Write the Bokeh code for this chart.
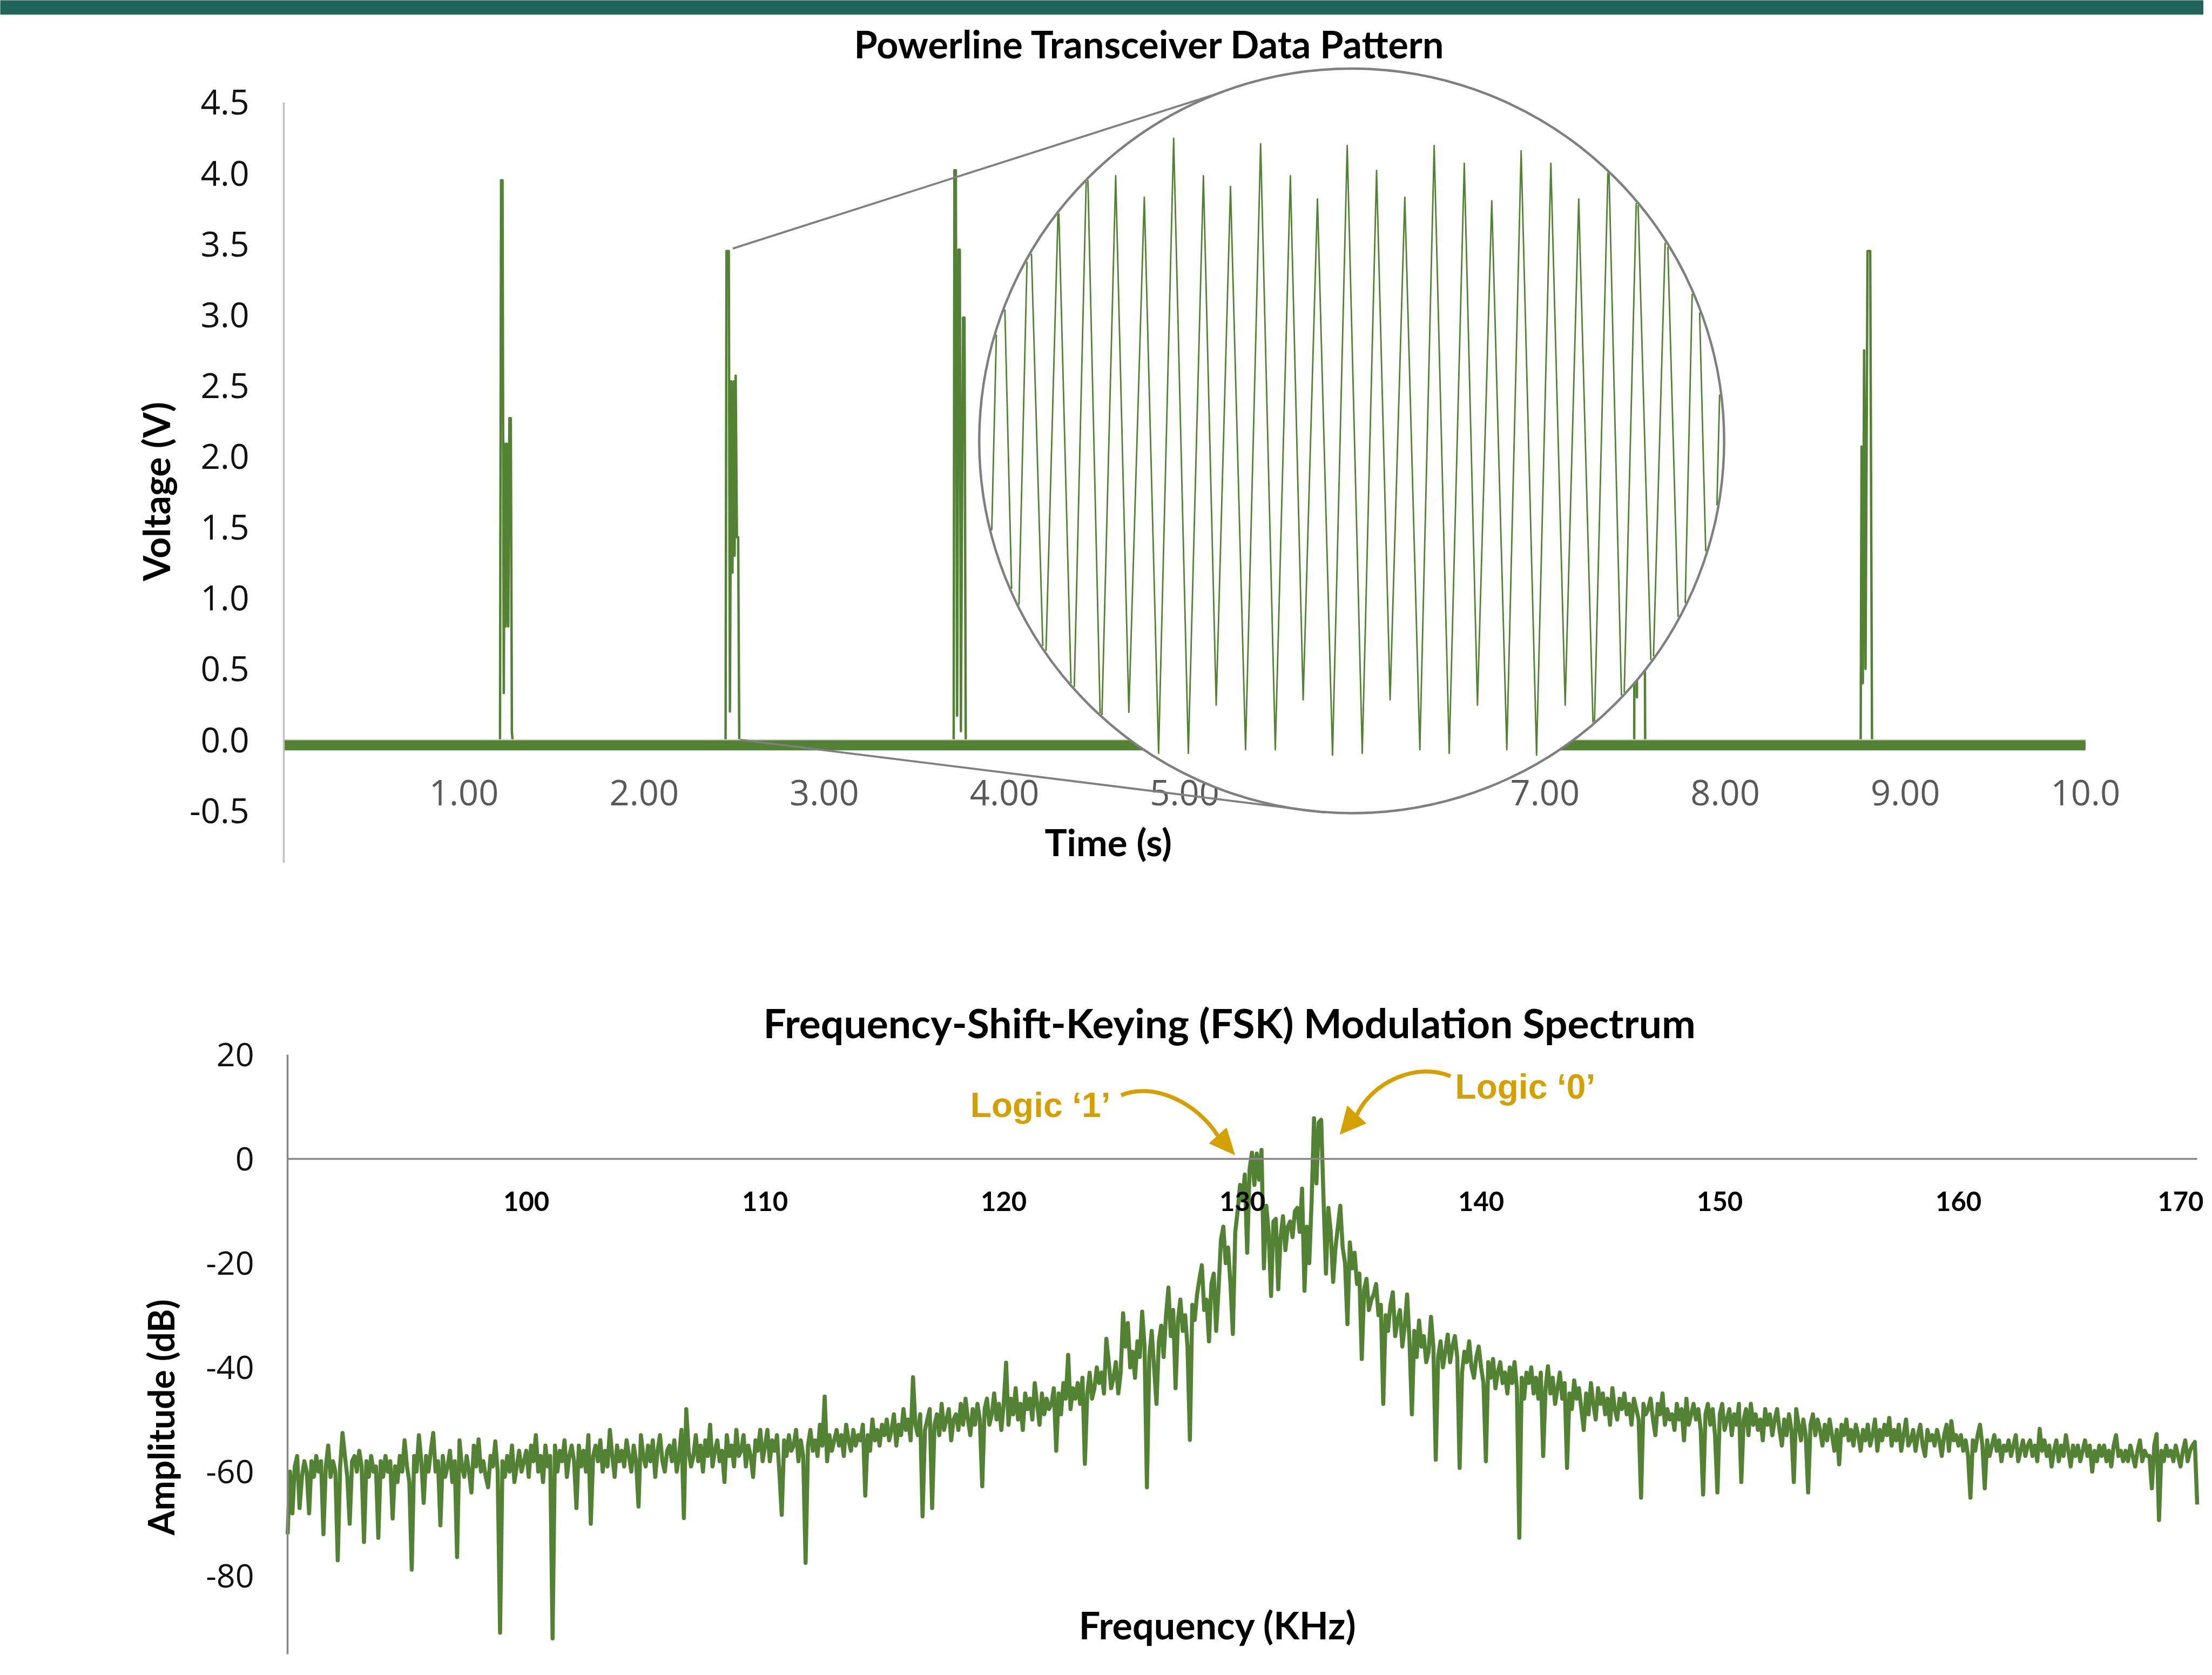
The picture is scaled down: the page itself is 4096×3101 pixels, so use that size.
import math
import numpy as np
from bokeh.plotting import figure
from bokeh.models import Range1d, FixedTicker, NumeralTickFormatter, CustomJSTickFormatter
from bokeh.layouts import column
from bokeh.embed import file_html
from bokeh.resources import INLINE
from bokeh.core.properties import value

# ======================= DATA =======================
# --- Top chart: powerline transceiver voltage trace (time in s, voltage in V)
noise_t = [0.0, 10.0]          # noise band on the idle line
noise_hi = [0.0, 0.0]
noise_lo = [-0.075, -0.075]

trace_t = [0.0,
           1.200, 1.206, 1.214, 1.221, 1.226, 1.232, 1.238, 1.246, 1.252, 1.260, 1.266, 1.272,
           2.452, 2.457, 2.470, 2.476, 2.484, 2.490, 2.498, 2.502, 2.508, 2.515, 2.522, 2.528,
           3.718, 3.722, 3.730, 3.737, 3.745, 3.752, 3.758, 3.770, 3.778, 3.785,
           7.495, 7.500, 7.510, 7.520, 7.530, 7.540, 7.550, 7.556,
           8.752, 8.757, 8.764, 8.771, 8.779, 8.790, 8.805, 8.815,
           10.0]
trace_v = [-0.035,
           -0.035, 3.95, 3.95, 0.33, 2.09, 0.80, 2.09, 0.80, 2.27, 2.27, 0.05, -0.035,
           -0.035, 3.45, 3.45, 0.20, 2.53, 1.18, 2.53, 1.30, 2.57, 1.43, 1.43, -0.035,
           -0.035, 4.02, 4.02, 0.17, 3.46, 3.46, 0.06, 2.98, 2.98, -0.035,
           -0.035, 3.30, 0.30, 3.60, 0.50, 3.10, 2.00, -0.035,
           -0.035, 2.07, 0.40, 2.75, 0.50, 3.45, 3.45, -0.035,
           -0.035]

# magnified FSK burst shown in the callout circle (extrema: time in us, voltage in V)
inset_us = [2.0, 5.8, 9.7, 13.3, 17.4, 21.1, 24.9, 28.7, 32.4, 36.3, 39.8, 43.9, 47.7,
            51.7, 55.6, 59.6, 63.0, 66.8, 70.8, 74.8, 78.7, 82.7, 86.1, 89.9, 93.9,
            97.8, 101.8, 105.6, 109.2, 113.1, 117.1, 120.9, 124.9, 128.9, 132.4, 136.2,
            140.2, 144.0, 148.1, 151.9, 155.7, 159.3, 163.3, 167.2, 171.0, 174.8, 178.8,
            182.6, 186.7, 190.3, 194.4, 198.2]
inset_v = [0.01, 3.42, 0.01, 3.26, 0.27, 3.12, 0.01, 3.42, 0.01, 3.24, 0.23, 3.12, 0.00,
           3.45, 0.00, 3.24, 0.27, 3.18, 0.02, 3.42, 0.02, 3.24, 0.30, 3.11, -0.01,
           3.41, 0.00, 3.27, 0.30, 3.12, 0.02, 3.41, 0.00, 3.31, 0.27, 3.10,
           0.02, 3.38, -0.01, 3.31, 0.27, 3.11, 0.01, 3.39, 0.01, 3.28, 0.27,
           3.12, 0.01, 3.39, 0.01, 3.28]

time_ticks = [1, 2, 3, 4, 5, 6, 7, 8, 9, 10]
volt_ticks = [-0.5, 0.0, 0.5, 1.0, 1.5, 2.0, 2.5, 3.0, 3.5, 4.0, 4.5]

# --- Bottom chart: FSK spectrum, amplitude (dB) every 0.1 kHz; each row = 1 kHz
spec_090 = [
    [-72, -60, -68, -59, -57, -67, -61, -58, -60, -68],
    [-58, -61, -57, -60, -58, -72, -59, -55, -61, -58],
    [-60, -77, -59, -52.6, -57, -61, -70, -58, -57, -60],
    [-56, -59, -73.5, -58, -61, -57, -60, -59, -72.7, -58],
    [-61, -57, -60, -58, -69, -59, -62, -57, -60, -54],
    [-59, -62, -78.8, -57, -60, -53, -58, -66, -57, -60],
    [-56, -52.6, -60, -58, -70.3, -57, -61, -59, -56, -62],
    [-58, -76.4, -54, -59, -61, -57, -60, -64, -55, -59],
    [-53.8, -60, -58, -61, -63, -57, -59, -54.2, -60, -90.9],
    [-58, -61, -57, -60, -55, -62, -59, -56, -60, -58],
]
spec_100 = [
    [-56, -61, -55, -58, -53, -60, -57, -62, -55, -59],
    [-57, -92, -55, -60, -56, -58, -54, -61, -57, -55],
    [-58, -67, -55, -59, -56, -60, -53, -70, -57, -55],
    [-58, -54, -60, -56, -59, -52, -57, -61, -55, -58],
    [-56, -59, -54, -57, -60, -55, -58, -66.7, -53, -57],
    [-59, -55, -58, -54, -61, -56, -53, -58, -60, -56],
    [-55, -58, -54, -60, -57, -52, -68.9, -48, -56, -59],
    [-57, -53, -58, -55, -60, -54, -57, -51, -59, -56],
    [-54, -58, -56, -62, -53, -57, -55, -59, -52, -57],
    [-56, -53, -59, -55, -57, -61, -54, -56, -52, -58],
]
spec_110 = [
    [-55, -52, -58, -54, -56, -53, -60, -68.3, -54, -57],
    [-53, -56, -55, -52, -58, -54, -57, -77.5, -55, -52],
    [-56, -54, -57, -51, -55, -45.6, -58, -53, -56, -54],
    [-52, -55, -53, -57, -51, -54, -56, -52, -55, -53],
    [-54, -51, -64.6, -53, -56, -50, -54, -52, -55, -51],
    [-53, -50, -54, -52, -49, -55, -51, -53, -48, -52],
    [-50, -54, -41.9, -51, -53, -49, -68.6, -52, -50, -48],
    [-67, -51, -49, -53, -47, -52, -50, -48, -54, -50],
    [-49, -52, -47, -51, -46, -50, -53, -48, -51, -47],
    [-50, -62.8, -48, -46, -51, -49, -45, -50, -47, -52],
]
spec_120 = [
    [-47, -39.1, -51, -46, -49, -44, -50, -47, -52, -45],
    [-48, -46, -50, -43, -47, -51, -45, -49, -46, -48],
    [-47, -44, -56, -45, -49, -43, -46, -37.6, -48, -44],
    [-46, -43, -47, -42, -58.5, -45, -41, -46, -44, -40],
    [-43, -41, -45, -34.5, -39, -44, -42, -39, -45, -41],
    [-29.6, -36, -31.5, -40, -37, -42, -35, -38, -29.3, -36],
    [-63, -38, -33, -40, -47, -35, -32, -38, -30, -24.7],
    [-34, -29, -44, -31, -27, -33, -30, -36, -53.9, -28],
    [-30.9, -26, -23, -20.4, -29, -27, -35, -24, -22, -33],
    [-25, -15.5, -13, -20, -17, -24, -33.6, -14, -10, -5],
]
spec_130 = [
    [-8, -3, -18, -2, 1.2, -5, 1.0, -4, 1.7, -21],
    [-9, -14, -26.3, -12, -11.5, -25, -15, -11, -17.5, -13],
    [-12, -15, -10, -9.4, -14, -5.7, -25.3, -13, -20, -8],
    [7.8, -4.7, 7.0, 7.5, -8, -22, -9.4, -14, -23.6, -17],
    [-13, -9, -17, -20, -31.7, -16, -21, -18, -24, -22],
    [-38.4, -25, -23, -29, -27, -26, -24, -30, -28, -47],
    [-30, -33, -28, -25.6, -34, -31, -29, -36, -32, -26],
    [-35, -49, -33, -38, -31, -36, -34, -39, -37, -30.3],
    [-36, -57.7, -38, -35, -40, -37, -33.7, -39, -36, -34],
    [-38, -59.3, -41, -37, -39, -35, -40, -42, -38, -36],
]
spec_140 = [
    [-40, -43, -58, -39, -42, -38.4, -44, -41, -39, -43],
    [-41, -45, -40, -43, -39, -44, -72.7, -42, -46, -41],
    [-43, -40, -45, -42, -46, -41, -57, -44, -39.8, -45],
    [-42, -47, -44, -41, -46, -43, -59.3, -45, -48, -42.5],
    [-46, -44, -48, -52, -45, -49, -43, -47, -50, -44],
    [-47, -45, -49, -46, -51, -44, -48, -50, -46, -48],
    [-45, -49, -47, -51, -46, -48, -50, -65, -47, -49],
    [-48, -46, -50, -53, -47, -49, -45, -51, -48, -50],
    [-49, -52, -47, -50, -48, -54, -46, -51, -49, -47],
    [-50, -48, -52, -64.4, -49, -47, -51, -48, -53, -64],
]
spec_150 = [
    [-49, -47, -52, -50, -48, -53, -49, -51, -47, -62],
    [-50, -48, -53, -47, -51, -49, -52, -50, -54, -48],
    [-51, -49, -53, -50, -48, -52, -55, -50, -53, -49],
    [-52, -62, -48, -51, -54, -50, -53, -64, -51, -49],
    [-53, -50, -52, -55, -51, -54, -50, -53, -56, -52],
    [-58.6, -51, -53, -50, -54, -52, -55, -51, -53, -56],
    [-52, -54, -51, -55, -53, -50, -56, -52, -54, -51],
    [-53, -49.7, -55, -52, -54, -51, -56, -53, -50, -55],
    [-54, -52, -56, -53, -51, -55, -57, -52, -54, -53],
    [-55, -52, -54, -57, -53, -51, -56, -50.3, -54, -53],
]
spec_160 = [
    [-55, -53, -56, -54, -57, -65, -54, -56, -53, -51],
    [-55, -63.2, -54, -57, -55, -53, -56, -54, -58, -55],
    [-56, -54, -57, -55, -53, -58, -56, -54, -57, -55],
    [-54, -57, -55, -58, -51.8, -56, -54, -57, -55, -59],
    [-56, -54, -58, -55, -57, -53, -56, -59, -55, -57],
    [-55, -58, -56, -54, -57, -55, -60, -56, -58, -55],
    [-57, -55, -58, -56, -59, -55, -53, -57, -56, -58],
    [-56, -58, -55, -57, -59, -56, -54, -58, -56, -57],
    [-57, -63.2, -55, -52.8, -69.3, -56, -58, -55, -57, -56],
    [-58, -55, -57, -59, -56, -54, -58, -56, -55, -54.3],
]
spec_170 = [[-66.3]]

freq_ticks = [100, 110, 120, 130, 140, 150, 160, 170]
db_ticks = [-80, -60, -40, -20, 0, 20]

# ======================= STYLE / LAYOUT =======================
GREEN = "#548235"
GOLD = "#D4A000"
TEAL = "#22645A"
GRID_W = 4080

# ---- assemble spectrum (frequency grid of 0.1 kHz per row of 1 kHz)
freq, spec = [], []
for start, block in ((90, spec_090), (100, spec_100), (110, spec_110), (120, spec_120),
                     (130, spec_130), (140, spec_140), (150, spec_150), (160, spec_160),
                     (170, spec_170)):
    for r, row in enumerate(block):
        for j, v in enumerate(row):
            freq.append(start + r + 0.1 * j)
            spec.append(v)

# ---------------- top figure ----------------
PX_T = 333.63      # px per second
PX_V = 262.25      # px per volt
T_LEFT = 525       # px from figure left to t = 0
T_FRAME_H = 1600
T_YTOP = 4.782
t_x0 = -T_LEFT / PX_T
t_x1 = t_x0 + GRID_W / PX_T
t_y0 = T_YTOP - T_FRAME_H / PX_V

top = figure(frame_width=GRID_W, frame_height=T_FRAME_H,
             x_range=Range1d(t_x0, t_x1), y_range=Range1d(t_y0, T_YTOP),
             output_backend="svg", toolbar_location=None,
             title="Powerline Transceiver Data Pattern")
top.min_border = 0
top.min_border_top = 88
top.outline_line_color = None
top.xgrid.visible = False
top.ygrid.visible = False
top.background_fill_color = "white"
top.border_fill_color = "white"

top.varea(x=noise_t, y1=noise_lo, y2=noise_hi, fill_color=GREEN)
top.line(trace_t, trace_v, line_color=GREEN, line_width=4.5, line_join="round")

xa = top.xaxis[0]
xa.fixed_location = 0
xa.bounds = (0, 10)
xa.ticker = FixedTicker(ticks=time_ticks)
xa.formatter = CustomJSTickFormatter(code="return tick >= 10 ? tick.toFixed(1) : tick.toFixed(2);")
xa.axis_line_color = "#D0D0D0"
xa.axis_line_width = 2
xa.major_tick_line_color = None
xa.minor_tick_line_color = None
xa.major_label_text_font = "Open Sans"
xa.major_label_text_font_size = "65px"
xa.major_label_text_color = "#595959"
xa.major_label_standoff = 68

ya = top.yaxis[0]
ya.fixed_location = 0
ya.bounds = (-0.87, 4.5)
ya.ticker = FixedTicker(ticks=volt_ticks)
ya.formatter = NumeralTickFormatter(format="0.0")
ya.axis_line_color = "#BFBFBF"
ya.axis_line_width = 3.5
ya.major_tick_line_color = None
ya.minor_tick_line_color = None
ya.major_label_text_font = "Open Sans"
ya.major_label_text_font_size = "64px"
ya.major_label_text_color = "#111111"
ya.major_label_standoff = 58

top.text(x=[-0.711], y=[1.753], text=["Voltage (V)"], angle=math.pi / 2,
         text_font=value("Lato"), text_font_style="bold", text_font_size="68px",
         text_color="black", text_align="center", text_baseline="middle")
top.text(x=[4.576], y=[-0.721], text=["Time (s)"],
         text_font=value("Lato"), text_font_style="bold", text_font_size="69px",
         text_color="black", text_align="center", text_baseline="middle")

# callout circle (magnifier) + inset waveform
XC, YC = 5.927, 2.110          # circle centre (s, V)
R_OUT = 689.7                  # circle radius, px
circ = top.scatter([XC], [YC], marker="circle", size=2 * R_OUT, fill_color="white",
                   line_color="#7F7F7F", line_width=4.5)
circ.level = "annotation"


def clip_to_circle(xs, ys, r):
    ox, oy = [], []
    pen = False
    for i in range(len(xs) - 1):
        x0, y0, x1, y1 = xs[i], ys[i], xs[i + 1], ys[i + 1]
        dx, dy = x1 - x0, y1 - y0
        a = dx * dx + dy * dy
        b = 2 * (x0 * dx + y0 * dy)
        c = x0 * x0 + y0 * y0 - r * r
        disc = b * b - 4 * a * c
        if a == 0 or disc <= 0:
            pen = False
            continue
        sq = math.sqrt(disc)
        s0 = max((-b - sq) / (2 * a), 0.0)
        s1 = min((-b + sq) / (2 * a), 1.0)
        if s0 >= s1:
            pen = False
            continue
        if not (pen and s0 == 0.0):
            if ox:
                ox.append(float("nan"))
                oy.append(float("nan"))
            ox.append(x0 + s0 * dx)
            oy.append(y0 + s0 * dy)
        ox.append(x0 + s1 * dx)
        oy.append(y0 + s1 * dy)
        pen = (s1 == 1.0)
    return ox, oy


S = 0.927
PX_US = 7.52 * S       # px per microsecond in the magnified view
PX_VI = 356.0 * S      # px per volt in the magnified view
ipx = [PX_US * t - 744.4 * S for t in inset_us]
ipy = [PX_VI * v - 624.0 * S for v in inset_v]
cx, cy = clip_to_circle(ipx, ipy, R_OUT - 3)
ix = np.array([XC + x / PX_T for x in cx])
iy = np.array([YC + y / PX_V for y in cy])
iw = top.line(ix, iy, line_color=GREEN, line_width=2.8, line_join="round")
iw.level = "annotation"

# connectors from the magnified burst to the circle
src_x = [2.492, 2.533]
src_y = [3.468, 0.0]
ang = [math.radians(111.6), math.radians(-94.1)]
dst_x = [XC + R_OUT * math.cos(a) / PX_T for a in ang]
dst_y = [YC + R_OUT * math.sin(a) / PX_V for a in ang]
con = top.segment(x0=src_x, y0=src_y, x1=dst_x, y1=dst_y, line_color="#7F7F7F", line_width=3.8)
con.level = "annotation"

top.title.align = "left"
top.title.offset = 1581
top.title.text_font = "Lato"
top.title.text_font_size = "70px"
top.title.text_font_style = "bold"
top.title.text_color = "black"
top.title.standoff = -14

# ---------------- bottom figure ----------------
PX_K = 44.2       # px per kHz
PX_DB = 9.65      # px per dB
B_LEFT = 532.1    # px from figure left to 90 kHz
B_EXTRA = 43      # frame room above the 20 dB end of the axis
B_FRAME_H = 1133 + B_EXTRA
B_YTOP = 20.0 + B_EXTRA / PX_DB
b_x0 = 90 - B_LEFT / PX_K
b_x1 = b_x0 + GRID_W / PX_K
b_y0 = B_YTOP - B_FRAME_H / PX_DB

bot = figure(frame_width=GRID_W, frame_height=B_FRAME_H,
             x_range=Range1d(b_x0, b_x1), y_range=Range1d(b_y0, B_YTOP),
             output_backend="svg", toolbar_location=None,
             title="Frequency-Shift-Keying (FSK) Modulation Spectrum")
bot.min_border = 0
bot.min_border_top = 237 - B_EXTRA
bot.outline_line_color = None
bot.xgrid.visible = False
bot.ygrid.visible = False
bot.background_fill_color = "white"
bot.border_fill_color = "white"

bot.line(freq, spec, line_color=GREEN, line_width=7.5, line_join="round")

bxa = bot.xaxis[0]
bxa.fixed_location = 0
bxa.bounds = (90, 170)
bxa.ticker = FixedTicker(ticks=freq_ticks)
bxa.axis_line_color = "#878787"
bxa.axis_line_width = 3.5
bxa.major_tick_line_color = None
bxa.minor_tick_line_color = None
bxa.major_label_text_font = "Lato"
bxa.major_label_text_font_style = "bold"
bxa.major_label_text_font_size = "49px"
bxa.major_label_text_color = "black"
bxa.major_label_standoff = 54

bya = bot.yaxis[0]
bya.fixed_location = 90
bya.bounds = (-95, 20)
bya.ticker = FixedTicker(ticks=db_ticks)
bya.formatter = NumeralTickFormatter(format="0")
bya.axis_line_color = "#878787"
bya.axis_line_width = 3.5
bya.major_tick_line_color = None
bya.minor_tick_line_color = None
bya.major_label_text_font = "Open Sans"
bya.major_label_text_font_size = "61px"
bya.major_label_text_color = "#111111"
bya.major_label_standoff = 56

bot.text(x=[84.69], y=[-49.57], text=["Amplitude (dB)"], angle=math.pi / 2,
         text_font=value("Lato"), text_font_style="bold", text_font_size="66px",
         text_color="black", text_align="center", text_baseline="middle")
bot.text(x=[128.97], y=[-89.34], text=["Frequency (KHz)"],
         text_font=value("Lato"), text_font_style="bold", text_font_size="70px",
         text_color="black", text_align="center", text_baseline="middle")

# Logic annotations with curved arrows
bot.text(x=[121.54, 141.85], y=[10.28, 13.83], text=["Logic \u20181\u2019", "Logic \u20180\u2019"],
         text_font=value("Liberation Sans"), text_font_style="bold", text_font_size="64px",
         text_color=GOLD, text_align="center", text_baseline="alphabetic")
bot.bezier(x0=[124.92, 138.72], y0=[12.20, 15.85],
           x1=[128.97, 134.80], y1=[4.42, 8.45],
           cx0=[126.20, 137.32], cy0=[14.79, 18.64],
           cx1=[128.09, 135.43], cy1=[10.95, 14.79],
           line_color=GOLD, line_width=7.5)
bot.patches(xs=[[129.68, 128.61, 129.33], [134.09, 134.40, 135.18]],
            ys=[[0.77, 2.98, 5.96], [4.71, 10.18, 6.82]],
            fill_color=GOLD, line_color=GOLD, line_width=1)

bot.title.align = "left"
bot.title.offset = 1413
bot.title.text_font = "Lato"
bot.title.text_font_size = "75px"
bot.title.text_font_style = "bold"
bot.title.text_color = "black"
bot.title.standoff = -57

# ---------------- header band ----------------
band = figure(width=GRID_W, height=27, output_backend="svg", toolbar_location=None,
              x_axis_type=None, y_axis_type=None, x_range=Range1d(0, 1), y_range=Range1d(0, 1))
band.min_border = 0
band.outline_line_color = None
band.background_fill_color = TEAL
band.border_fill_color = TEAL
band.grid.visible = False

layout = column(band, top, bot, spacing=0)
open("out.html", "w").write(file_html(layout, INLINE))
